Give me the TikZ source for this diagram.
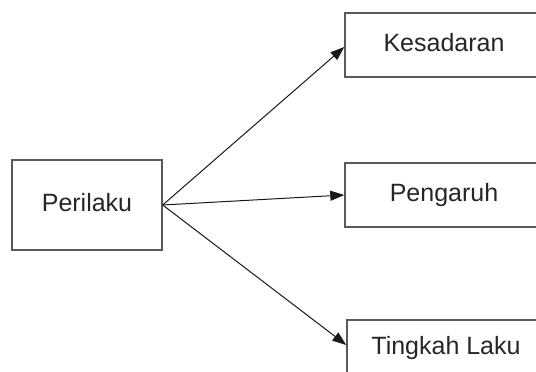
\documentclass[tikz,border=0pt]{standalone}
\usepackage{fontspec}
\setmainfont{Liberation Sans}
\usetikzlibrary{arrows.meta}
\begin{document}
\begin{tikzpicture}[x=1pt,y=1pt,
  box/.style={draw=black!65, line width=1.4pt, fill=white, inner sep=0pt,
    font=\fontsize{25}{30}\selectfont, text=black!85, text height=18pt, text depth=4pt},
  conn/.style={draw=black!90, line width=1pt, -{Triangle[length=14pt,width=10pt]}}]
\useasboundingbox (0,0) rectangle (536,372);
\clip (0,0) rectangle (536,372);
\node[box, minimum width=150, minimum height=90] (p) at (87,167) {Perilaku};
\node[box, minimum width=198, minimum height=64] (k) at (444,327) {Kesadaran};
\node[box, minimum width=198, minimum height=64] (g) at (444,177) {Pengaruh};
\node[box, minimum width=198, minimum height=56] (t) at (446,24) {Tingkah Laku};
\draw[conn] (p.east) -- ([yshift=-2pt]k.west);
\draw[conn] (p.east) -- (g.west);
\draw[conn] (p.east) -- ([yshift=3pt]t.west);
\end{tikzpicture}
\end{document}
